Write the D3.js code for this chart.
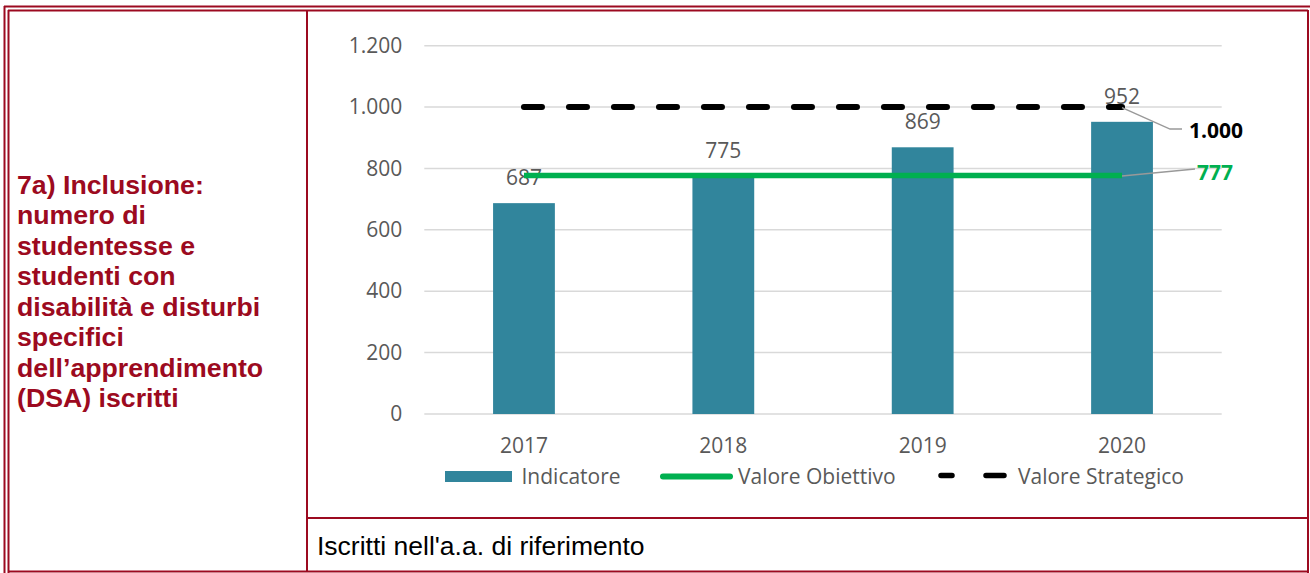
<!DOCTYPE html>
<html>
<head>
<meta charset="utf-8">
<script src="https://cdn.jsdelivr.net/npm/d3@7"></script>
<style>
  html, body { margin: 0; padding: 0; background: #ffffff; }
  svg { display: block; }
</style>
</head>
<body>
<svg id="chart" width="1310" height="573"></svg>
<script>
// Enrolled students with disabilities / specific learning disorders, by year
const years = ["2017", "2018", "2019", "2020"];
const indicatore = [687, 775, 869, 952];
const valoreObiettivo = [777, 777, 777, 777];
const valoreStrategico = [1000, 1000, 1000, 1000];
const yTicks = [0, 200, 400, 600, 800, 1000, 1200];
const seriesNames = ["Indicatore", "Valore Obiettivo", "Valore Strategico"];

const titleLines = [
  "7a) Inclusione:",
  "numero di",
  "studentesse e",
  "studenti con",
  "disabilità e disturbi",
  "specifici",
  "dell\u2019apprendimento",
  "(DSA) iscritti"
];
const noteText = "Iscritti nell'a.a. di riferimento";

const RED = "#9c0a20";
const BAR = "#31859c";
const GREEN = "#00b050";
const TEXT = "#595959";
const GRID = "#d9d9d9";
const FONT = "'Open Sans', sans-serif";

const svg = d3.select("#chart");

// Italian number format: 1.200
const it = d3.formatLocale({ decimal: ",", thousands: ".", grouping: [3], currency: ["€", ""] });
const fmt = it.format(",d");

// ---- table frame ----
const frame = svg.append("g").attr("stroke", RED).attr("stroke-width", 2).attr("fill", "none");
const seg = (x1, y1, x2, y2) => frame.append("line").attr("x1", x1).attr("y1", y1).attr("x2", x2).attr("y2", y2);
seg(4, 6.5, 1310, 6.5);      // outer top
seg(4.5, 6, 4.5, 573);       // outer left
seg(8, 10.5, 1308, 10.5);    // inner top
seg(8.5, 10, 8.5, 573);      // inner left
seg(1308, 10, 1308, 573);    // right
seg(8, 571.5, 1308, 571.5);  // bottom
seg(307, 10, 307, 572);      // column divider
seg(307, 518, 1308, 518);    // row divider

// ---- left cell heading ----
svg.append("text")
  .attr("font-family", "'Liberation Sans', Arial, sans-serif")
  .attr("font-weight", "bold")
  .attr("font-size", 26.7)
  .attr("fill", RED)
  .selectAll("tspan")
  .data(titleLines)
  .join("tspan")
  .attr("x", 17)
  .attr("y", (d, i) => 193.5 + i * 30.5)
  .text(d => d);

// ---- bottom note ----
svg.append("text")
  .attr("x", 317)
  .attr("y", 555)
  .attr("font-family", "'Liberation Sans', Arial, sans-serif")
  .attr("font-size", 26.5)
  .attr("fill", "#000")
  .text(noteText);

// ---- chart ----
const x = d3.scaleBand().domain(years).range([424.3, 1221.7]).paddingInner(0.69).paddingOuter(0.345);
const y = d3.scaleLinear().domain([0, 1200]).range([414, 45.7]);
const cx = d => x(d) + x.bandwidth() / 2;

// gridlines
svg.append("g")
  .selectAll("line")
  .data(yTicks)
  .join("line")
  .attr("x1", 424.3)
  .attr("x2", 1221.7)
  .attr("y1", d => y(d))
  .attr("y2", d => y(d))
  .attr("stroke", GRID)
  .attr("stroke-width", 1.5);

// y axis labels
const yAxis = svg.append("g")
  .attr("transform", "translate(424.3,0)")
  .call(d3.axisLeft(y).tickValues(yTicks).tickFormat(fmt).tickSize(0).tickPadding(22));
yAxis.select(".domain").remove();
yAxis.selectAll("text")
  .attr("font-family", FONT)
  .attr("font-size", 21)
  .attr("fill", TEXT);

// x axis labels
const xAxis = svg.append("g")
  .attr("transform", "translate(0,414)")
  .call(d3.axisBottom(x).tickSize(0));
xAxis.select(".domain").remove();
xAxis.selectAll("text")
  .attr("y", 39)
  .attr("dy", null)
  .attr("font-family", FONT)
  .attr("font-size", 21)
  .attr("fill", TEXT);

// bars
svg.append("g")
  .selectAll("rect")
  .data(indicatore)
  .join("rect")
  .attr("x", (d, i) => x(years[i]))
  .attr("y", d => y(d))
  .attr("width", x.bandwidth())
  .attr("height", d => y(0) - y(d))
  .attr("fill", BAR);

// bar value labels
svg.append("g")
  .selectAll("text")
  .data(indicatore)
  .join("text")
  .attr("x", (d, i) => cx(years[i]))
  .attr("y", d => y(d) - 18)
  .attr("text-anchor", "middle")
  .attr("font-family", FONT)
  .attr("font-size", 21)
  .attr("fill", TEXT)
  .text(d => fmt(d));

// target lines
const line = d3.line().x((d, i) => cx(years[i])).y(d => y(d));

svg.append("path")
  .datum(valoreObiettivo)
  .attr("d", line)
  .attr("fill", "none")
  .attr("stroke", GREEN)
  .attr("stroke-width", 5.5);

svg.append("path")
  .datum(valoreStrategico)
  .attr("d", line)
  .attr("fill", "none")
  .attr("stroke", "#000")
  .attr("stroke-width", 6)
  .attr("stroke-linecap", "round")
  .attr("stroke-dasharray", "18,27");

// leader labels for the last point of each target line
const lastIdx = years.length - 1;
const lx = cx(years[lastIdx]);

const sy = y(valoreStrategico[lastIdx]);
svg.append("polyline")
  .attr("points", [[lx, sy + 0.5], [lx + 48, sy + 22], [lx + 60, sy + 22]].map(p => p.join(",")).join(" "))
  .attr("fill", "none")
  .attr("stroke", "#999999")
  .attr("stroke-width", 1.5);
svg.append("text")
  .attr("x", lx + 67)
  .attr("y", sy + 31)
  .attr("font-family", FONT)
  .attr("font-size", 21)
  .attr("font-weight", "bold")
  .attr("fill", "#000")
  .text(fmt(valoreStrategico[lastIdx]));

const oy = y(valoreObiettivo[lastIdx]);
svg.append("line")
  .attr("x1", lx).attr("y1", oy + 0.5)
  .attr("x2", lx + 73).attr("y2", oy - 6.5)
  .attr("stroke", "#999999")
  .attr("stroke-width", 1.5);
svg.append("text")
  .attr("x", lx + 75)
  .attr("y", oy + 4.5)
  .attr("font-family", FONT)
  .attr("font-size", 21)
  .attr("font-weight", "bold")
  .attr("fill", GREEN)
  .text(fmt(valoreObiettivo[lastIdx]));

// ---- legend ----
const legend = svg.append("g").attr("font-family", FONT).attr("font-size", 21).attr("fill", TEXT);
const ly = 476.5;

legend.append("rect")
  .attr("x", 445).attr("y", ly - 5.5)
  .attr("width", 67).attr("height", 11)
  .attr("fill", BAR);
legend.append("text").attr("x", 521.5).attr("y", ly + 7).text(seriesNames[0]);

legend.append("line")
  .attr("x1", 663).attr("x2", 730)
  .attr("y1", ly).attr("y2", ly)
  .attr("stroke", GREEN).attr("stroke-width", 6).attr("stroke-linecap", "round");
legend.append("text").attr("x", 738).attr("y", ly + 7).text(seriesNames[1]);

legend.append("line")
  .attr("x1", 941).attr("x2", 1004)
  .attr("y1", ly - 1).attr("y2", ly - 1)
  .attr("stroke", "#000").attr("stroke-width", 5.5).attr("stroke-linecap", "round")
  .attr("stroke-dasharray", "11,34,20");
legend.append("text").attr("x", 1018).attr("y", ly + 7).text(seriesNames[2]);
</script>
</body>
</html>
